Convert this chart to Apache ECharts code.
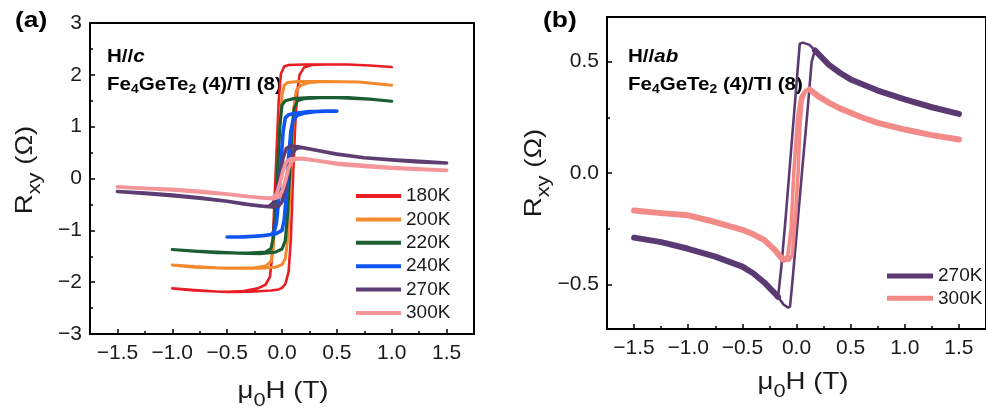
<!DOCTYPE html>
<html><head><meta charset="utf-8">
<script src="https://cdn.jsdelivr.net/npm/echarts@6/dist/echarts.min.js"></script>
<style>html,body{margin:0;padding:0;background:#fff}#c{width:986px;height:412px}</style>
</head><body><div id="c"></div>
<script>
// ---------- tick values ----------
const xTicks = [-1.5, -1, -0.5, 0, 0.5, 1, 1.5];
const xMinor = [-1.25, -0.75, -0.25, 0.25, 0.75, 1.25];
const yTicksB = [-0.5, 0, 0.5];
const yMinorB = [-0.25, 0.25];

// ---------- panel (a): H//c, field sweep up then back down  [mu0H (T), Rxy (Ohm)] ----------
const namesA = ['180K', '200K', '220K', '240K', '270K', '300K'];
const a180 = [[-1.0,-2.12],[-0.8,-2.15],[-0.6,-2.18],[-0.4,-2.19],[-0.25,-2.18],[-0.1,-2.16],[-0.03,-2.14],[0.0,-2.11],[0.03,-2.04],[0.06,-1.8],[0.08,-1.2],[0.1,0.0],[0.12,1.0],[0.14,1.7],[0.16,2.0],[0.2,2.14],[0.27,2.19],[0.4,2.2],[0.6,2.2],[0.8,2.18],[1.0,2.15],
  [0.8,2.18],[0.6,2.2],[0.4,2.2],[0.2,2.2],[0.06,2.19],[0.02,2.16],[-0.01,2.02],[-0.03,1.5],[-0.05,0.5],[-0.07,-0.5],[-0.09,-1.5],[-0.11,-1.9],[-0.15,-2.05],[-0.22,-2.12],[-0.35,-2.17],[-0.5,-2.19],[-0.8,-2.16],[-1.0,-2.12]];
const a200 = [[-1.0,-1.67],[-0.8,-1.7],[-0.6,-1.72],[-0.4,-1.73],[-0.2,-1.73],[-0.06,-1.71],[0.0,-1.66],[0.03,-1.55],[0.05,-1.2],[0.07,-0.4],[0.09,0.6],[0.11,1.4],[0.13,1.7],[0.17,1.8],[0.25,1.85],[0.4,1.87],[0.7,1.86],[1.0,1.8],
  [0.7,1.86],[0.4,1.87],[0.15,1.87],[0.05,1.85],[0.02,1.8],[0.0,1.6],[-0.02,1.0],[-0.04,0.2],[-0.06,-0.7],[-0.08,-1.35],[-0.1,-1.6],[-0.15,-1.69],[-0.25,-1.72],[-0.5,-1.73],[-0.8,-1.71],[-1.0,-1.67]];
const a220 = [[-1.0,-1.37],[-0.8,-1.4],[-0.6,-1.42],[-0.4,-1.44],[-0.2,-1.45],[-0.06,-1.42],[0.0,-1.36],[0.03,-1.2],[0.05,-0.7],[0.07,0.1],[0.09,0.9],[0.11,1.35],[0.14,1.5],[0.2,1.54],[0.35,1.56],[0.6,1.56],[0.8,1.53],[1.0,1.49],
  [0.8,1.53],[0.5,1.56],[0.25,1.56],[0.1,1.54],[0.03,1.5],[0.0,1.42],[-0.02,1.0],[-0.04,0.2],[-0.06,-0.6],[-0.08,-1.15],[-0.1,-1.35],[-0.15,-1.42],[-0.3,-1.44],[-0.6,-1.43],[-0.8,-1.4],[-1.0,-1.37]];
const a240 = [[-0.5,-1.13],[-0.4,-1.13],[-0.3,-1.12],[-0.15,-1.1],[-0.05,-1.06],[0.0,-1.0],[0.02,-0.8],[0.04,-0.3],[0.06,0.4],[0.08,0.9],[0.1,1.12],[0.14,1.22],[0.2,1.26],[0.3,1.29],[0.4,1.3],[0.5,1.3],
  [0.4,1.3],[0.25,1.29],[0.12,1.26],[0.06,1.23],[0.03,1.17],[0.01,0.9],[-0.01,0.3],[-0.03,-0.4],[-0.05,-0.85],[-0.07,-1.02],[-0.1,-1.08],[-0.2,-1.11],[-0.35,-1.13],[-0.5,-1.13]];
const a270 = [[-1.5,-0.25],[-1.25,-0.28],[-1.0,-0.32],[-0.75,-0.37],[-0.5,-0.44],[-0.3,-0.5],[-0.15,-0.54],[-0.08,-0.55],[-0.03,-0.53],[0.0,-0.45],[0.03,-0.2],[0.06,0.2],[0.09,0.45],[0.12,0.56],[0.16,0.6],[0.22,0.585],[0.35,0.53],[0.5,0.47],[0.75,0.4],[1.0,0.36],[1.25,0.32],[1.5,0.3],
  [1.25,0.33],[1.0,0.36],[0.75,0.4],[0.5,0.47],[0.3,0.55],[0.15,0.61],[0.08,0.625],[0.04,0.58],[0.01,0.4],[-0.02,0.05],[-0.05,-0.3],[-0.08,-0.47],[-0.12,-0.54],[-0.2,-0.53],[-0.35,-0.49],[-0.5,-0.44],[-0.75,-0.38],[-1.0,-0.33],[-1.25,-0.29],[-1.5,-0.25]];
const a300 = [[-1.5,-0.16],[-1.25,-0.19],[-1.0,-0.21],[-0.75,-0.25],[-0.5,-0.3],[-0.3,-0.35],[-0.15,-0.38],[-0.08,-0.39],[-0.03,-0.36],[0.0,-0.25],[0.03,-0.05],[0.06,0.2],[0.09,0.33],[0.13,0.38],[0.2,0.385],[0.3,0.35],[0.5,0.28],[0.75,0.235],[1.0,0.2],[1.25,0.175],[1.5,0.155],
  [1.0,0.21],[0.5,0.29],[0.3,0.35],[0.15,0.39],[0.08,0.38],[0.04,0.32],[0.01,0.15],[-0.02,-0.1],[-0.05,-0.3],[-0.09,-0.38],[-0.15,-0.38],[-0.3,-0.35],[-0.5,-0.3],[-1.0,-0.22],[-1.5,-0.16]];

// ---------- panel (b): H//ab ----------
const namesB = ['270K', '300K'];
const b270Left = [[-1.5,-0.29],[-1.25,-0.31],[-1.0,-0.34],[-0.75,-0.375],[-0.5,-0.42],[-0.4,-0.45],[-0.3,-0.49],[-0.2,-0.54],[-0.17,-0.556]];
const b270Loop = [[-0.17,-0.556],[-0.12,-0.59],[-0.08,-0.603],[-0.06,-0.6],[-0.04,-0.5],[0.0,-0.28],[0.05,0.0],[0.1,0.27],[0.14,0.5],[0.17,0.55],[0.12,0.575],[0.06,0.585],[0.03,0.58],[0.0,0.4],[-0.05,0.1],[-0.1,-0.2],[-0.14,-0.42],[-0.17,-0.556]];
const b270Right = [[0.17,0.55],[0.2,0.535],[0.3,0.485],[0.4,0.45],[0.5,0.42],[0.75,0.37],[1.0,0.33],[1.25,0.295],[1.5,0.265]];
const b300Left = [[-1.5,-0.168],[-1.25,-0.18],[-1.0,-0.19],[-0.75,-0.22],[-0.5,-0.255],[-0.4,-0.275],[-0.3,-0.3],[-0.2,-0.345],[-0.15,-0.375],[-0.12,-0.39]];
const b300Loop = [[-0.12,-0.39],[-0.07,-0.392],[-0.04,-0.37],[-0.01,-0.2],[0.015,0.0],[0.03,0.2],[0.05,0.32],[0.08,0.365],[0.12,0.375],[0.08,0.37],[0.04,0.34],[0.01,0.25],[-0.025,0.0],[-0.05,-0.25],[-0.08,-0.37],[-0.12,-0.39]];
const b300Right = [[0.12,0.375],[0.2,0.345],[0.3,0.315],[0.4,0.29],[0.5,0.27],[0.6,0.25],[0.75,0.225],[1.0,0.195],[1.25,0.17],[1.5,0.15]];

// ---------- styles ----------
const FONT = '"Liberation Sans", Arial, sans-serif';
const TXT = '#1a1a1a';
const colA = {'180K':'#ea1d25','200K':'#f5892d','220K':'#1c5e32','240K':'#0f55f5','270K':'#5e3d72','300K':'#f4959a'};
const widA = {'180K':2.6,'200K':3,'220K':3.2,'240K':3.6,'270K':3.6,'300K':3.8};
const colB = {'270K':'#5b3a73','300K':'#f28a88'};
const dataA = {'180K':a180,'200K':a200,'220K':a220,'240K':a240,'270K':a270,'300K':a300};
const minus = s => s.replace('-', '\u2212');

const chart = echarts.init(document.getElementById('c'), null, {renderer:'canvas'});

function line(name, data, color, width, xi, yi){
  return {type:'line', name, data, xAxisIndex:xi, yAxisIndex:yi, symbol:'none', showSymbol:false,
    color, lineStyle:{color, width, cap:'round', join:'round'}, animation:false, silent:true};
}
const series = [];
namesA.forEach(n => series.push(line(n, dataA[n], colA[n], widA[n], 0, 0)));
series.push(line('270K', b270Left, colB['270K'], 6, 2, 1));
series.push(line('270K', b270Right, colB['270K'], 6, 2, 1));
series.push(line('270K', b270Loop, colB['270K'], 2.6, 2, 1));
series.push(line('300K', b300Left, colB['300K'], 6, 2, 1));
series.push(line('300K', b300Right, colB['300K'], 6, 2, 1));
series.push(line('300K', b300Loop, colB['300K'], 3.6, 2, 1));

const labelStyle = {fontFamily:FONT, fontSize:21, color:TXT};
const tickStyle = {color:'#000', width:1.5};
function xMajor(grid){
  return {type:'value', gridIndex:grid, min:-1.75, max:1.75, position:'bottom',
    axisLine:{show:true, onZero:false, lineStyle:{color:'#000', width:2}},
    axisTick:{show:true, inside:true, length:5, lineStyle:tickStyle, customValues:xTicks},
    axisLabel:{show:true, margin:9, ...labelStyle, customValues:xTicks, formatter:v=>minus(v.toFixed(1))},
    splitLine:{show:false}};
}
function xMinorAxis(grid){
  return {type:'value', gridIndex:grid, min:-1.75, max:1.75, position:'bottom',
    axisLine:{show:false, onZero:false}, axisLabel:{show:false}, splitLine:{show:false},
    axisTick:{show:true, inside:true, length:3, lineStyle:tickStyle, customValues:xMinor}};
}

// axis titles (stretched horizontally like the original figure)
const titleRich = {
  n:{fontFamily:FONT, fontSize:24, fill:TXT, color:TXT, lineHeight:38},
  s:{fontFamily:FONT, fontSize:19, fill:TXT, color:TXT, lineHeight:19, verticalAlign:'bottom'}
};
function title(x, y, text, rot){
  return {type:'text', x, y, rotation:rot, scaleX:1.15, silent:true,
    style:{text, rich:titleRich, align:'center', verticalAlign:'middle', textAlign:'center', textVerticalAlign:'middle'}};
}
const annoRich = {
  b:{fontFamily:FONT, fontSize:18.5, fontWeight:'bold', fill:'#000', color:'#000', lineHeight:24},
  i:{fontFamily:FONT, fontSize:18.5, fontWeight:'bold', fontStyle:'italic', fill:'#000', color:'#000', lineHeight:24},
  s:{fontFamily:FONT, fontSize:12.5, fontWeight:'bold', fill:'#000', color:'#000', lineHeight:12, verticalAlign:'bottom'}
};

const option = {
  backgroundColor:'#fff',
  animation:false,
  grid:[
    {left:90, top:23, width:384, height:311, show:true, borderColor:'#000', borderWidth:2, backgroundColor:'transparent'},
    {left:607, top:17, width:388, height:312, show:true, borderColor:'#000', borderWidth:2, backgroundColor:'transparent'}
  ],
  xAxis:[xMajor(0), xMinorAxis(0), xMajor(1), xMinorAxis(1)],
  yAxis:[
    {type:'value', gridIndex:0, min:-3, max:3, interval:1,
      axisLine:{show:true, onZero:false, lineStyle:{color:'#000', width:2}},
      axisTick:{show:true, inside:true, length:5, lineStyle:tickStyle},
      minorTick:{show:true, splitNumber:2, length:3, lineStyle:tickStyle},
      axisLabel:{margin:8, ...labelStyle, formatter:v=>minus(String(v))},
      splitLine:{show:false}},
    {type:'value', gridIndex:1, min:-0.7, max:0.7,
      axisLine:{show:true, onZero:false, lineStyle:{color:'#000', width:2}},
      axisTick:{show:true, inside:true, length:5, lineStyle:tickStyle, customValues:yTicksB},
      axisLabel:{margin:8, ...labelStyle, customValues:yTicksB, formatter:v=>minus(v.toFixed(1))},
      splitLine:{show:false}},
    {type:'value', gridIndex:1, min:-0.7, max:0.7, position:'left',
      axisLine:{show:false, onZero:false}, axisLabel:{show:false}, splitLine:{show:false},
      axisTick:{show:true, inside:true, length:3, lineStyle:tickStyle, customValues:yMinorB}}
  ],
  legend:[
    {data:namesA.map(n=>({name:n, itemStyle:{color:colA[n]}})), orient:'vertical', left:351, top:181,
      icon:'rect', itemWidth:45, itemHeight:4, itemGap:3.4, selectedMode:false,
      textStyle:{fontFamily:FONT, fontSize:19, color:TXT, lineHeight:20}},
    {data:namesB.map(n=>({name:n, itemStyle:{color:colB[n]}})), orient:'vertical', left:882, top:261,
      icon:'rect', itemWidth:46, itemHeight:5, itemGap:2.3, selectedMode:false,
      textStyle:{fontFamily:FONT, fontSize:19, color:TXT, lineHeight:20}}
  ],
  graphic:[
    {type:'text', left:15, top:10, scaleX:1.2, style:{text:'(a)', fontFamily:FONT, fontSize:22, fontWeight:'bold', fill:'#000'}},
    {type:'text', left:543, top:10, scaleX:1.2, style:{text:'(b)', fontFamily:FONT, fontSize:22, fontWeight:'bold', fill:'#000'}},
    ...[[107,'c'],[628,'ab']].flatMap(([x, dir]) => [
      {type:'text', left:x, top:47, scaleX:1.11, style:{text:'{b|H//}{i|'+dir+'}', rich:annoRich}},
      {type:'text', left:x, top:75, scaleX:1.11, style:{text:'{b|Fe}{s|4}{b|GeTe}{s|2}{b| (4)/TI (8)}', rich:annoRich}}
    ]),
    title(283, 391, '{n|\u03bc}{s|0}{n|H (T)}', 0),
    title(803, 382, '{n|\u03bc}{s|0}{n|H (T)}', 0),
    title(25, 170, '{n|R}{s|xy}{n| (\u03a9)}', Math.PI/2),
    title(534, 173, '{n|R}{s|xy}{n| (\u03a9)}', Math.PI/2)
  ],
  series
};
chart.setOption(option);
</script></body></html>
